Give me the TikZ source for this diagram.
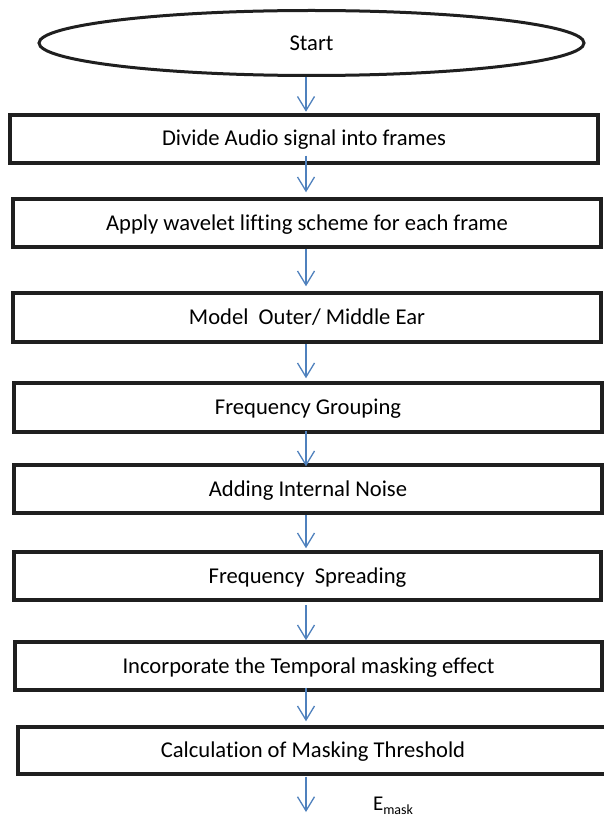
\documentclass[tikz,border=0pt]{standalone}
\usepackage{fontspec}
\setmainfont{Carlito}[Ligatures=NoCommon]
\usetikzlibrary{arrows.meta,shapes.geometric}
\definecolor{arrblue}{HTML}{4F81BD}
\begin{document}
\begin{tikzpicture}[x=1pt,y=-1pt,
  box/.style={draw=black!88, line width=3.5pt, rectangle, inner sep=0pt,
    text height=15pt, text depth=1pt,
    font=\fontsize{22.6}{27}\selectfont},
  arr/.style={draw=arrblue, line width=1.3pt,
    -{Straight Barb[length=14pt,width=17pt,line width=1.3pt]}}]
\useasboundingbox (0,0) rectangle (603,821);
\fill[white] (0,0) rectangle (603,821);
\coordinate (ax) at (306,0);
\node[ellipse, draw=black!88, line width=3pt, minimum width=545pt, minimum height=65pt,
  inner sep=0pt, font=\fontsize{22.6}{27}\selectfont] (s) at (311.5,43) {Start};
\node[box, minimum width=588pt, minimum height=48pt] (b1) at (304,139) {Divide Audio signal into frames};
\node[box, minimum width=588pt, minimum height=48pt] (b2) at (307,223) {Apply wavelet lifting scheme for each frame};
\node[box, minimum width=588pt, minimum height=49pt] (b3) at (307,317.5) {Model\ \ Outer/ Middle Ear};
\node[box, minimum width=588pt, minimum height=49pt] (b4) at (308,407.5) {Frequency Grouping};
\node[box, minimum width=588pt, minimum height=48pt] (b5) at (308,489) {Adding Internal Noise};
\node[box, minimum width=587pt, minimum height=48pt] (b6) at (307.5,576) {Frequency\ \ Spreading};
\node[box, minimum width=587pt, minimum height=48pt] (b7) at (308.5,666) {Incorporate the Temporal masking effect};
\node[box, minimum width=590pt, minimum height=47pt] (b8) at (313,750.5) {Calculation of Masking Threshold};
\coordinate (e) at (306,812);
\node[font=\fontsize{21}{25}\selectfont, inner sep=0pt] (em) at (393,806)
  {E\raisebox{-0.45ex}{\fontsize{14}{16}\selectfont mask}};
\draw[arr] (s.south -| ax) -- ([yshift=1.5pt]b1.north -| ax);
\draw[arr] ([yshift=9pt]b1.south -| ax) -- ([yshift=5pt]b2.north -| ax);
\draw[arr] (b2.south -| ax) -- ([yshift=5pt]b3.north -| ax);
\draw[arr] (b3.south -| ax) -- ([yshift=3pt]b4.north -| ax);
\draw[arr] ([yshift=3pt]b4.south -| ax) -- ([yshift=-3pt]b5.north -| ax);
\draw[arr] (b5.south -| ax) -- ([yshift=2pt]b6.north -| ax);
\draw[arr] ([yshift=-3pt]b6.south -| ax) -- (b7.north -| ax);
\draw[arr] ([yshift=4pt]b7.south -| ax) -- ([yshift=4pt]b8.north -| ax);
\draw[arr] ([yshift=-1pt]b8.south -| ax) -- (e);
\end{tikzpicture}
\end{document}
